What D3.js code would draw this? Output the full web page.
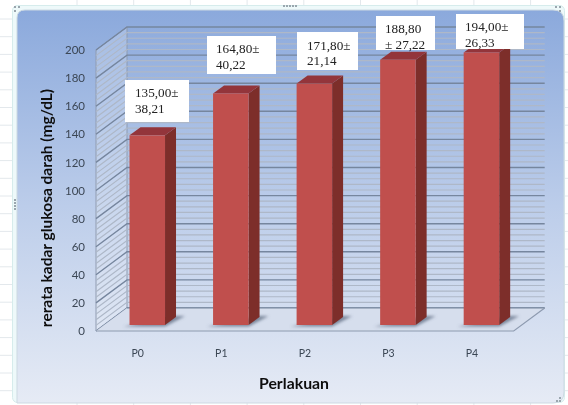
<!DOCTYPE html>
<html><head><meta charset="utf-8">
<script src="https://cdn.jsdelivr.net/npm/d3@7"></script>
<style>html,body{margin:0;padding:0;background:#fff}svg{display:block}</style>
</head><body><svg id="c" width="568" height="405"></svg>
<script>
const categories = ["P0","P1","P2","P3","P4"];
const means = [135.0,164.8,171.8,188.8,194.0];
const labelLine1 = ["135,00±","164,80±","171,80±","188,80","194,00±"];
const labelLine2 = ["38,21","40,22","21,14","± 27,22","26,33"];
const yTicks = d3.range(0,201,20);
const minorTicks = d3.range(0,201,4);
const yTitle = "rerata kadar glukosa darah (mg/dL)";
const xTitle = "Perlakuan";

const W=568,H=405;
const svg=d3.select("#c");
const defs=svg.append("defs");
const bg=defs.append("linearGradient").attr("id","bg").attr("x1",0).attr("y1",0).attr("x2",0).attr("y2",1);
[[0,"#8ba9dc"],[0.5,"#bccdea"],[1,"#e6ebf5"]].forEach(s=>bg.append("stop").attr("offset",s[0]).attr("stop-color",s[1]));
defs.append("filter").attr("id","blur").attr("x","-30%").attr("y","-100%").attr("width","160%").attr("height","300%")
  .append("feGaussianBlur").attr("stdDeviation",1.6);
defs.append("filter").attr("id","soft").append("feGaussianBlur").attr("stdDeviation",0.5);
defs.append("filter").attr("id","softText").attr("x","-10%").attr("y","-10%").attr("width","120%").attr("height","120%").append("feGaussianBlur").attr("stdDeviation",0.3);

// spreadsheet behind the chart
const sheet=svg.append("g");
d3.range(77,W,56.7).forEach(x=>sheet.append("line").attr("x1",x).attr("x2",x).attr("y1",0).attr("y2",H).attr("stroke","#e3e8ec"));
d3.range(19,H,17.7).forEach(y=>sheet.append("line").attr("x1",0).attr("x2",W).attr("y1",y).attr("y2",y).attr("stroke","#e3e8ec"));
svg.append("rect").attr("x",12.5).attr("y",5.5).attr("width",552).attr("height",397).attr("rx",5)
  .attr("fill","#eef9fa").attr("stroke","#d6ecec");
svg.append("path").attr("d","M17,403V18Q17,10 25,10H553Q564,10 564,21V392Q564,403 553,403Z").attr("fill","url(#bg)").attr("stroke","#cdd9e2");

// grips
const grips=[[15,7],[19,7],[15,11],[556,7],[560,7],[560,11],[284,6],[287,6],[290,6],[293,6],[296,6],[15,200],[15,203],[15,206],[15,209],[560,401],[557,401],[560,398]];
svg.selectAll("rect.grip").data(grips).join("rect").attr("class","grip").attr("x",d=>d[0]-1).attr("y",d=>d[1]-1).attr("width",2).attr("height",2).attr("fill","#9aa6ae");

// scales
const x=d3.scaleBand().domain(categories).range([96,513.7]);
const y=d3.scaleLinear().domain([0,200]).range([331,50]);
const depthX=31,depthY=-23;
const barW=35.5,barShiftX=9.5,barShiftY=-6,barDX=11,barDY=-8;

const chart=svg.append("g").attr("filter","url(#soft)");
// walls
const x0=x.range()[0],x1=x.range()[1];
chart.append("path").attr("d",`M${x0},${y(0)}L${x0+depthX},${y(0)+depthY}L${x0+depthX},${y(200)+depthY}L${x0},${y(200)}Z`)
  .attr("fill","#fff").attr("fill-opacity",0.2).attr("stroke","#8e9bb0");
const gridLine=t=>`M${x0},${y(t)}L${x0+depthX},${y(t)+depthY}L${x1+depthX},${y(t)+depthY}`;
chart.selectAll("path.minor").data(minorTicks.filter(t=>t%20)).join("path").attr("class","minor").attr("d",gridLine)
  .attr("fill","none").attr("stroke","#aeb8c8").attr("stroke-width",1.2);
chart.selectAll("path.major").data(yTicks).join("path").attr("class","major").attr("d",gridLine)
  .attr("fill","none").attr("stroke","#76869e").attr("stroke-width",1.4);
// floor
chart.append("path").attr("d",`M${x0},${y(0)}L${x0+depthX},${y(0)+depthY}L${x1+depthX},${y(0)+depthY}L${x1},${y(0)}Z`).attr("fill","#d6deed");
chart.append("path").attr("d",`M${x0+depthX},${y(0)+depthY}L${x1+depthX},${y(0)+depthY}`).attr("fill","none").attr("stroke","#76869e").attr("stroke-width",1.2);
chart.append("path").attr("d",`M${x0},${y(0)}L${x1},${y(0)}L${x1+depthX},${y(0)+depthY}`).attr("fill","none").attr("stroke","#8e9bb0").attr("stroke-width",1.2);

// bars
chart.selectAll("g.bar").data(categories.map((c,i)=>({c,v:means[i]}))).join("g").attr("class","bar")
  .each(function(d){
    const g=d3.select(this);
    const l=x(d.c)+x.bandwidth()/2+barShiftX-barW/2, r=l+barW;
    const t=y(d.v)+barShiftY, b=y(0)+barShiftY;
    g.append("path").attr("d",`M${l-6},${b+1.5}L${r},${b+1.5}L${r+barDX+9},${b+barDY-1}L${r+barDX},${b+barDY-1}Z`).attr("fill","#5c6a80").attr("fill-opacity",.75).attr("filter","url(#blur)");
    g.append("path").attr("d",`M${r},${t}L${r+barDX},${t+barDY}L${r+barDX},${b+barDY}L${r},${b}Z`).attr("fill","#7d2f2c");
    g.append("path").attr("d",`M${l},${t}L${l+barDX},${t+barDY}L${r+barDX},${t+barDY}L${r},${t}Z`).attr("fill","#93363a");
    g.append("rect").attr("x",l).attr("y",t).attr("width",barW).attr("height",b-t).attr("fill","#c0504d");
  });

// axes
const axisFont="Lato, 'Open Sans', sans-serif";
const textLayer=svg.append("g").attr("filter","url(#softText)");
const ay=textLayer.append("g").attr("transform","translate(90,0)").call(d3.axisLeft(y).tickValues(yTicks).tickSize(0).tickPadding(5));
ay.select(".domain").remove();
ay.selectAll("text").attr("font-family",axisFont).attr("font-size",11.5).attr("fill","#3b4654");
const ax=textLayer.append("g").attr("transform","translate(0,343)").call(d3.axisBottom(x).tickSize(0).tickPadding(7));
ax.select(".domain").remove();
ax.selectAll("text").attr("font-family",axisFont).attr("font-size",10.5).attr("fill","#3b4654");

textLayer.append("text").attr("transform","translate(52,208) rotate(-90)").attr("text-anchor","middle")
  .attr("font-family",axisFont).attr("font-weight",700).attr("font-size",15.5).attr("fill","#111").text(yTitle);
textLayer.append("text").attr("x",294).attr("y",389).attr("text-anchor","middle")
  .attr("font-family",axisFont).attr("font-weight",700).attr("font-size",15.8).attr("fill","#111").text(xTitle);

// value boxes, placed by hand as in the picture
const boxes=[
 {x:125,y:80,w:64,h:42,tx:135,ty:[97,113]},
 {x:207,y:36,w:69,h:38,tx:216,ty:[53,69]},
 {x:297,y:32,w:61,h:38,tx:307,ty:[50,65]},
 {x:376,y:16,w:59,h:34,tx:385,ty:[33,49]},
 {x:456,y:14,w:68,h:35,tx:465,ty:[31,47]}];
const lab=svg.append("g");
boxes.forEach((b,i)=>{
  lab.append("rect").attr("x",b.x).attr("y",b.y).attr("width",b.w).attr("height",b.h).attr("fill","#fff");
  [labelLine1[i],labelLine2[i]].forEach((s,j)=>lab.append("text").attr("x",b.tx).attr("y",b.ty[j])
    .attr("font-family","'Liberation Serif',serif").attr("font-size",13.2).attr("fill","#222").attr("filter","url(#softText)").text(s));
});
</script></body></html>
